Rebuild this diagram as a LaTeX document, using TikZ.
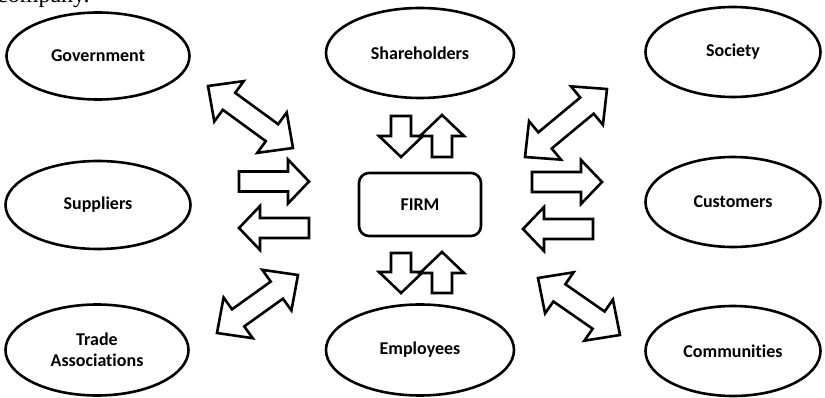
\documentclass[tikz,border=0pt]{standalone}
\usepackage{fontspec}
\setmainfont[Ligatures=NoCommon]{Carlito}
\newfontfamily\bodyfont{Liberation Serif}
\usetikzlibrary{shapes.geometric}
\usetikzlibrary{calc}
\tikzstyle{party}=[ellipse, draw, line width=2.6pt, align=center, font=\bfseries\fontsize{18}{21}\selectfont]
\tikzstyle{firm}=[rectangle, draw, line width=2.6pt, rounded corners=10pt, minimum width=122pt, minimum height=63pt, font=\bfseries\fontsize{18}{21}\selectfont]
\tikzstyle{block}=[draw, line width=2.6pt, fill=white, line join=miter]
\tikzstyle{oneway}=[to path={let \p1=(\tikztostart), \p2=(\tikztotarget), \n1={atan2(\y2-\y1,\x2-\x1)}, \n2={veclen(\x2-\x1,\y2-\y1)} in
  [shift={(\p1)}, rotate=\n1] (0,10) -- (\n2-21,10) -- (\n2-21,22) -- (\n2,0) -- (\n2-21,-22) -- (\n2-21,-10) -- (0,-10) -- cycle}]
\tikzstyle{twoway}=[to path={let \p1=(\tikztostart), \p2=(\tikztotarget), \n1={atan2(\y2-\y1,\x2-\x1)}, \n2={veclen(\x2-\x1,\y2-\y1)} in
  [shift={(\p1)}, rotate=\n1] (0,0) -- (26,25) -- (26,10.5) -- (\n2-26,10.5) -- (\n2-26,25) -- (\n2,0) -- (\n2-26,-25) -- (\n2-26,-10.5) -- (26,-10.5) -- (26,-25) -- cycle}]

\begin{document}
\begin{tikzpicture}[x=1pt, y=-1pt]
    \useasboundingbox (0,0) rectangle (825,398);
    \node[anchor=base west, inner sep=0pt, font=\bodyfont\fontsize{24}{28}\selectfont] (intro) at (-3,3) {company.};

    \node[firm]  (firm)  at (420,204.5) {FIRM};
    \node[party, minimum width=183pt, minimum height=87pt] (gov)   at (98,56)    {Government};
    \node[party, minimum width=188pt, minimum height=90pt] (share) at (420,53)   {Shareholders};
    \node[party, minimum width=175pt, minimum height=90pt] (soc)   at (733,52)   {Society};
    \node[party, minimum width=185pt, minimum height=88pt] (supp)  at (98,205)   {Suppliers};
    \node[party, minimum width=175pt, minimum height=90pt] (cust)  at (733,202)  {Customers};
    \node[party, minimum width=183pt, minimum height=91pt] (trade) at (97,350)   {Trade\\Associations};
    \node[party, minimum width=188pt, minimum height=91pt] (empl)  at (420,350)  {Employees};
    \node[party, minimum width=175pt, minimum height=90pt] (comm)  at (733,351)  {Communities};

    % arrow ends
    \coordinate (govA)   at (208,86);   \coordinate (govB)   at (293,148);
    \coordinate (socA)   at (525,157);  \coordinate (socB)   at (607,89);
    \coordinate (tradeA) at (217,333);  \coordinate (tradeB) at (298,275);
    \coordinate (commA)  at (538,278);  \coordinate (commB)  at (620,335);
    \coordinate (suppA)  at (239,181.5);\coordinate (suppB)  at (309,181.5);
    \coordinate (suppC)  at (309,228);  \coordinate (suppD)  at (239,228);
    \coordinate (custA)  at (532,182);  \coordinate (custB)  at (602,182);
    \coordinate (custC)  at (593,229);  \coordinate (custD)  at (523,229);
    \coordinate (shareA) at (401,116);  \coordinate (shareB) at (401,157);
    \coordinate (shareC) at (442,157);  \coordinate (shareD) at (442,115);
    \coordinate (emplA)  at (401,253);  \coordinate (emplB)  at (401,293);
    \coordinate (emplC)  at (442,293);  \coordinate (emplD)  at (442,252);

    \draw[block, twoway] (govA) to (govB);
    \draw[block, twoway] (socA) to (socB);
    \draw[block, twoway] (tradeA) to (tradeB);
    \draw[block, twoway] (commA) to (commB);
    \draw[block, oneway] (suppA) to (suppB);
    \draw[block, oneway] (suppC) to (suppD);
    \draw[block, oneway] (custA) to (custB);
    \draw[block, oneway] (custC) to (custD);
    \draw[block, oneway] (shareA) to (shareB);
    \draw[block, oneway] (shareC) to (shareD);
    \draw[block, oneway] (emplA) to (emplB);
    \draw[block, oneway] (emplC) to (emplD);
\end{tikzpicture}
\end{document}
